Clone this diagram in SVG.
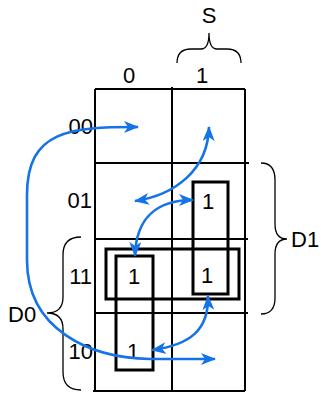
<svg xmlns="http://www.w3.org/2000/svg" width="321" height="394" viewBox="0 0 321 394">
<style>
.g{stroke:#000;stroke-width:2;fill:none}
.r{stroke:#000;stroke-width:3;fill:none}
.b{stroke:#000;stroke-width:1.3;fill:none}
.t{font-family:"Liberation Sans",Arial,sans-serif;font-size:22px;fill:#000}
.c{stroke:#1473e6;stroke-width:2.6;fill:none;marker-start:url(#ah);marker-end:url(#ah)}
</style>
<defs>
<marker id="ah" viewBox="0 0 15 12" refX="14" refY="6" markerWidth="15" markerHeight="12" markerUnits="userSpaceOnUse" orient="auto-start-reverse">
<path d="M0,0 L15,6 L0,12 L4,6 Z" fill="#1473e6"/>
</marker>
</defs>
<g id="grid">
<path class="g" d="M95,89 H245 M94,163 H249 M94,239 H248 M94,313 H248 M93,391 H245 M95,89 V391 M172,87 V391 M245,89 V391"/>
</g>
<g id="labels">
<text class="t" x="129" y="83" text-anchor="middle">0</text>
<text class="t" x="202" y="83" text-anchor="middle">1</text>
<text class="t" x="209" y="23" text-anchor="middle">S</text>
<text class="t" x="93" y="134" text-anchor="end">00</text>
<text class="t" x="92" y="208" text-anchor="end">01</text>
<text class="t" x="92" y="284" text-anchor="end">11</text>
<text class="t" x="93" y="359" text-anchor="end">10</text>
</g>
<g id="brace-S"><path class="b" d="M177,63 Q177,49 191,49 H201 Q209,49 209,33 Q209,49 217,49 H227 Q241,49 241,63"/></g>
<g id="brace-D1"><path class="b" d="M261,163 Q275,163 275,180 V224 Q275,239 287,239 Q275,239 275,254 V298 Q275,314 261,314"/>
<text class="t" x="291" y="247">D1</text></g>
<g id="brace-D0"><path class="b" d="M81,237 Q63,237 63,255 V297 Q63,313 47,313 Q63,313 63,329 V372 Q63,390 81,390"/>
<text class="t" x="8" y="322">D0</text></g>
<g id="cell-01-1"><text class="t" x="208" y="209" text-anchor="middle">1</text></g>
<g id="cell-11-0"><text class="t" x="134" y="284" text-anchor="middle">1</text></g>
<g id="cell-11-1"><text class="t" x="207" y="283" text-anchor="middle">1</text></g>
<g id="cell-10-0"><text class="t" x="133" y="359" text-anchor="middle">1</text></g>
<g id="group-col1"><rect class="r" x="193" y="182" width="35" height="112"/></g>
<g id="group-row11"><rect class="r" x="106" y="249" width="133" height="50"/></g>
<g id="group-col0"><rect class="r" x="116" y="256" width="37" height="114"/></g>
<g id="connectors">
<path class="c" d="M138,127 C70,127 27,130 27,195 L27,260 C27,330 90,358 150,359 L215,359"/>
<path class="c" d="M135,201 C175,195 208,170 209,127"/>
<path class="c" d="M193,200 C160,200 136,215 135,256"/>
<path class="c" d="M152,350 C190,345 209,330 208,296"/>
</g>
</svg>
